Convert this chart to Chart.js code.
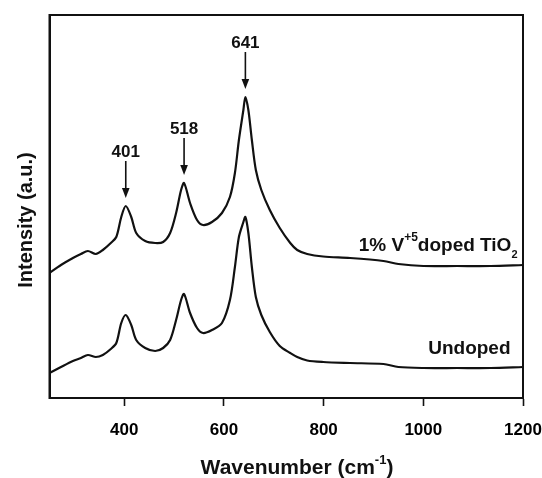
<!DOCTYPE html>
<html><head><meta charset="utf-8">
<script src="https://cdn.jsdelivr.net/npm/chart.js@4/dist/chart.umd.min.js"></script>
<style>html,body{margin:0;padding:0;background:#fff}</style>
</head><body>
<canvas id="c" width="542" height="478"></canvas>
<script>
// ---- data ----
const wavenumbers = [250,273,297,313,327,343,357,373,384,394,403,414,424,442,462,478,492,504,514,520,532,546,558,576,596,612,622,630,639,643,649,656,664,675,692,712,733,747,767,799,853,920,950,1000,1068,1135,1200];
const dopedIntensity = [125,133,140,144,147,144,148,155,161,181,192,181,165,157,155,156,165,185,208,215,195,178,173,176,185,201,225,258,288,301,288,258,228,208,188,170,155,148,144,141.5,140,137,134,132,132,132,133];
const undopedIntensity = [25,31,37,40,43,41,43,49,55,75,83,73,58,50,47,50,58,78,98,104,85,70,65,68,75,98,131,161,176,181,165,131,101,83,66,52,45,41,37.5,36,35,34,31,30,30,30,31];
const xTickValues = [400,600,800,1000,1200];
const peakPositions = [401,518,641];
const peakLabels = ['401','518','641'];
const seriesNames = ['1% V+5 doped TiO2','Undoped'];

// ---- styling / layout (not data) ----
const FONT = '"Liberation Sans", Arial, Helvetica, sans-serif';
const INK = '#111';
const labelAnchors = [{x:1189, y:147}, {x:1175, y:44}]; // right edge / baseline in data units

const toPts = (ys) => wavenumbers.map((w,i)=>({x:w, y:ys[i]}));

function drawRich(ctx, parts, right, baseline){
  let w = 0;
  parts.forEach(p=>{ctx.font = 'bold '+p.size+'px '+FONT; p.w = ctx.measureText(p.t).width; w += p.w;});
  let x = right - w;
  parts.forEach(p=>{
    ctx.font = 'bold '+p.size+'px '+FONT;
    ctx.textAlign='left'; ctx.textBaseline='alphabetic';
    ctx.fillText(p.t, x, baseline + (p.dy||0));
    x += p.w;
  });
}

const decor = {
  id:'decor',
  afterDatasetsDraw(chart){
    const {ctx, chartArea:a, scales:{x,y}} = chart;
    ctx.save();
    ctx.fillStyle = INK; ctx.strokeStyle = INK;
    ctx.lineWidth = 2;
    ctx.strokeRect(a.left, a.top, a.right-a.left, a.bottom-a.top);
    peakPositions.forEach((p,i)=>{
      let best = -Infinity;
      wavenumbers.forEach((w,j)=>{ if(Math.abs(w-p)<=12 && dopedIntensity[j]>best) best = dopedIntensity[j]; });
      const px = x.getPixelForValue(p)+1;
      const tip = y.getPixelForValue(best) - 8;
      const top = tip - 37;
      ctx.lineWidth = 1.6;
      ctx.beginPath(); ctx.moveTo(px, top); ctx.lineTo(px, tip-8); ctx.stroke();
      ctx.beginPath(); ctx.moveTo(px-3.8, tip-10); ctx.lineTo(px+3.8, tip-10); ctx.lineTo(px, tip); ctx.closePath(); ctx.fill();
      ctx.font = 'bold 17px '+FONT; ctx.textAlign='center'; ctx.textBaseline='alphabetic';
      ctx.fillText(peakLabels[i], px, top - 4);
    });
    const a0 = labelAnchors[0], a1 = labelAnchors[1];
    drawRich(ctx, [{t:'1% V',size:19},{t:'+5',size:12,dy:-10},{t:'doped TiO',size:19},{t:'2',size:11,dy:7}],
      x.getPixelForValue(a0.x), y.getPixelForValue(a0.y));
    drawRich(ctx, [{t:'Undoped',size:19}], x.getPixelForValue(a1.x), y.getPixelForValue(a1.y));
    const parts = [{t:'Wavenumber (cm',size:21},{t:'-1',size:13,dy:-10},{t:')',size:21}];
    let tw = 0; parts.forEach(p=>{ctx.font='bold '+p.size+'px '+FONT; tw += ctx.measureText(p.t).width;});
    drawRich(ctx, parts, 297 + tw/2, 474);
    ctx.save();
    ctx.translate(32, 220); ctx.rotate(-Math.PI/2);
    ctx.font = 'bold 20px '+FONT; ctx.textAlign='center'; ctx.textBaseline='alphabetic';
    ctx.fillText('Intensity (a.u.)', 0, 0);
    ctx.restore();
    ctx.restore();
  }
};

new Chart(document.getElementById('c'), {
  type:'line',
  data:{ datasets:[
    {label:seriesNames[0], data:toPts(dopedIntensity), borderColor:INK, borderWidth:2.2, pointRadius:0, fill:false, tension:0.3},
    {label:seriesNames[1], data:toPts(undopedIntensity), borderColor:INK, borderWidth:2.2, pointRadius:0, fill:false, tension:0.3}
  ]},
  options:{
    responsive:false, animation:false, devicePixelRatio:1,
    layout:{padding:{top:15, right:19, left:0, bottom:0}},
    plugins:{legend:{display:false}, tooltip:{enabled:false}},
    scales:{
      x:{type:'linear', min:250, max:1200,
        afterBuildTicks(s){ s.ticks = xTickValues.map(v=>({value:v})); },
        afterFit(s){ s.height = 80; s.paddingLeft = 0; s.paddingRight = 0; },
        grid:{drawOnChartArea:false, drawTicks:true, tickLength:8, tickColor:INK, tickWidth:1.6},
        border:{display:true, color:INK, width:2},
        ticks:{color:'#000', font:{family:FONT, size:17, weight:'bold'}, padding:14, maxRotation:0, autoSkip:false,
          callback:(v)=>String(v)}
      },
      y:{type:'linear', min:0, max:383,
        afterFit(s){ s.width = 49.5; s.paddingTop = 0; s.paddingBottom = 0; },
        grid:{display:false},
        border:{display:true, color:INK, width:2},
        ticks:{display:false}
      }
    }
  },
  plugins:[decor]
});
</script>
</body></html>
